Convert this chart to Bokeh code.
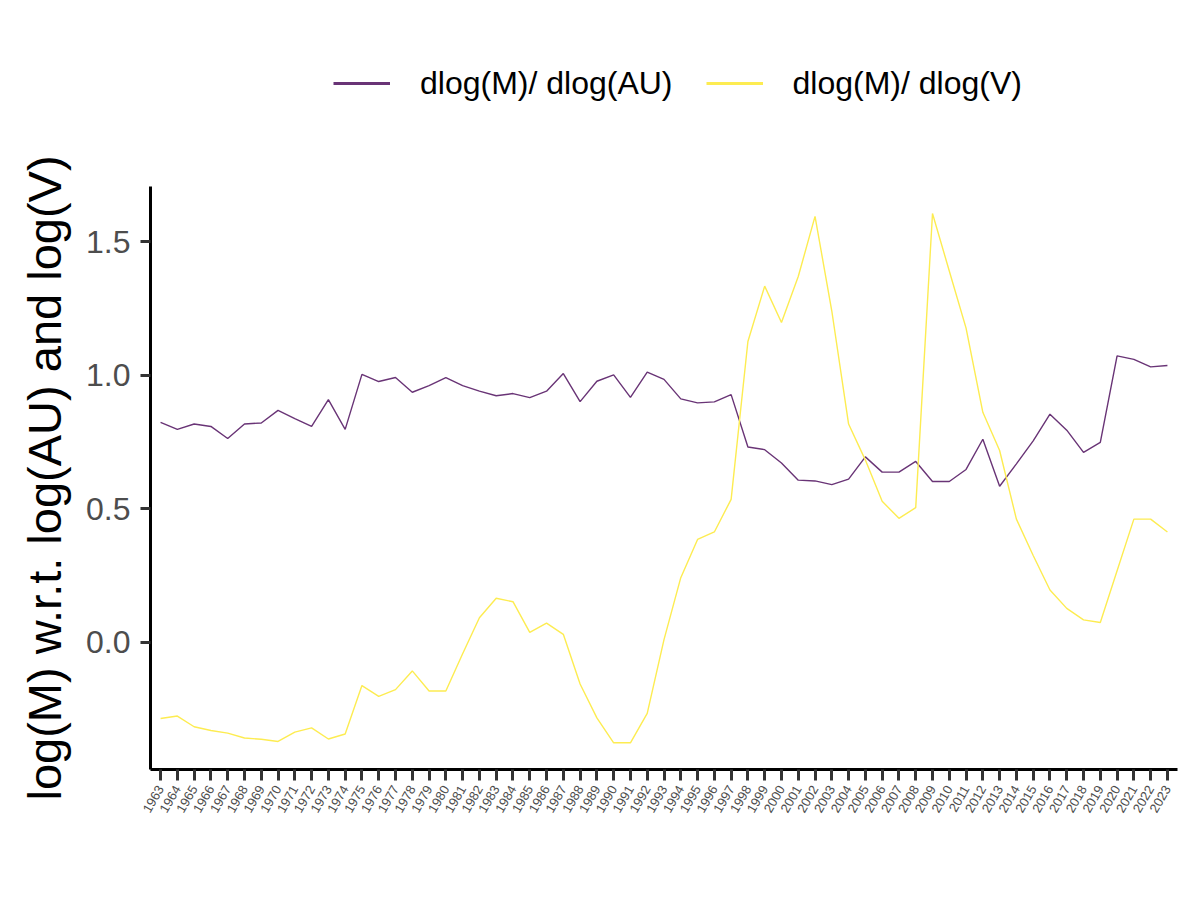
import math
from bokeh.plotting import figure
from bokeh.layouts import column
from bokeh.models import (FixedTicker, Legend, LegendItem, ColumnDataSource, Range1d)
from bokeh.embed import file_html
from bokeh.resources import INLINE

years = list(range(1963, 2024))
tick_labels = [str(y) for y in years]

dlog_m_au = [0.823, 0.797, 0.817, 0.808, 0.763, 0.817, 0.821, 0.868, 0.837, 0.808,
             0.908, 0.797, 1.003, 0.976, 0.991, 0.936, 0.961, 0.991, 0.961, 0.940,
             0.923, 0.931, 0.916, 0.940, 1.006, 0.901, 0.977, 1.001, 0.917, 1.011,
             0.984, 0.911, 0.896, 0.900, 0.927, 0.731, 0.721, 0.671, 0.607, 0.604,
             0.590, 0.611, 0.694, 0.637, 0.637, 0.677, 0.602, 0.602, 0.647, 0.760,
             0.584, 0.668, 0.754, 0.854, 0.794, 0.711, 0.748, 1.072, 1.059, 1.031,
             1.036]

dlog_m_v = [-0.285, -0.276, -0.316, -0.330, -0.340, -0.358, -0.363, -0.371, -0.336, -0.320,
            -0.362, -0.343, -0.162, -0.202, -0.177, -0.107, -0.182, -0.182, -0.043, 0.092,
            0.165, 0.152, 0.037, 0.072, 0.030, -0.156, -0.283, -0.376, -0.376, -0.266,
            0.010, 0.242, 0.385, 0.413, 0.535, 1.126, 1.333, 1.197, 1.369, 1.594,
            1.240, 0.817, 0.682, 0.528, 0.464, 0.504, 1.605, 1.390, 1.176, 0.861,
            0.718, 0.461, 0.325, 0.196, 0.127, 0.084, 0.074, 0.268, 0.461, 0.461,
            0.413]

series_labels = ["dlog(M)/ dlog(AU)", "dlog(M)/ dlog(V)"]
y_ticks = [0.0, 0.5, 1.0, 1.5]
y_tick_labels = ["0.0", "0.5", "1.0", "1.5"]

PURPLE = "#693476"
YELLOW = "#FDEC51"
FONT = "Liberation Sans"

LEG_H = 130

# ---------- legend strip ----------
leg = figure(width=1184, height=LEG_H, output_backend="svg", toolbar_location=None,
             x_range=Range1d(0, 1), y_range=Range1d(0, 1), min_border=0)
leg.xaxis.visible = False
leg.yaxis.visible = False
leg.xgrid.visible = False
leg.ygrid.visible = False
leg.outline_line_color = None
k1 = leg.line(x=[-5, -4], y=[-5, -4], line_color=PURPLE, line_width=2.8)
k2 = leg.line(x=[-5, -4], y=[-5, -4], line_color=YELLOW, line_width=2.8)
legend = Legend(items=[LegendItem(label=series_labels[0], renderers=[k1]),
                       LegendItem(label=series_labels[1], renderers=[k2])],
                orientation="horizontal", location=(183, 27),
                label_text_font=FONT, label_text_font_size="32px",
                label_text_color="black",
                glyph_width=57, glyph_height=40, label_height=40,
                label_standoff=30, spacing=33, padding=0, margin=0,
                border_line_color=None, background_fill_alpha=0)
leg.add_layout(legend, "center")

# ---------- main chart ----------
p = figure(width=1184, height=884 - LEG_H, output_backend="svg", toolbar_location=None,
           x_range=Range1d(1962.4, 2023.6), y_range=Range1d(-0.476, 1.706),
           min_border_left=150, min_border_right=7, min_border_top=186 - LEG_H,
           min_border_bottom=115)
p.outline_line_color = None
p.xgrid.visible = False
p.ygrid.visible = False
p.background_fill_color = "white"
p.border_fill_color = "white"

src = ColumnDataSource(dict(x=years, a=dlog_m_au, v=dlog_m_v))
p.line("x", "a", source=src, line_color=PURPLE, line_width=1.4)
p.line("x", "v", source=src, line_color=YELLOW, line_width=1.4)

# x axis
xa = p.xaxis[0]
xa.ticker = FixedTicker(ticks=years)
xa.major_label_overrides = {y: lab for y, lab in zip(years, tick_labels)}
xa.major_label_orientation = math.pi / 3
xa.major_label_text_font = FONT
xa.major_label_text_font_size = "13px"
xa.major_label_text_color = "#4D4D4D"
xa.major_label_standoff = 6
xa.axis_line_color = "black"
xa.axis_line_width = 3
xa.major_tick_line_color = "#333333"
xa.major_tick_line_width = 3
xa.major_tick_out = 11
xa.major_tick_in = 0
xa.minor_tick_line_color = None

# y axis
ya = p.yaxis[0]
ya.ticker = FixedTicker(ticks=y_ticks)
ya.major_label_overrides = {t: lab for t, lab in zip(y_ticks, y_tick_labels)}
ya.major_label_text_font = FONT
ya.major_label_text_font_size = "32px"
ya.major_label_text_color = "#4D4D4D"
ya.major_label_standoff = 10
ya.axis_line_color = "black"
ya.axis_line_width = 3
ya.major_tick_line_color = "#333333"
ya.major_tick_line_width = 3
ya.major_tick_out = 10
ya.major_tick_in = 0
ya.minor_tick_line_color = None
ya.axis_label = "log(M) w.r.t. log(AU) and log(V)"
ya.axis_label_text_font = FONT
ya.axis_label_text_font_size = "47px"
ya.axis_label_text_font_style = "normal"
ya.axis_label_text_color = "black"
ya.axis_label_standoff = 12

layout = column(leg, p, spacing=0)
open("out.html", "w").write(file_html(layout, INLINE))
